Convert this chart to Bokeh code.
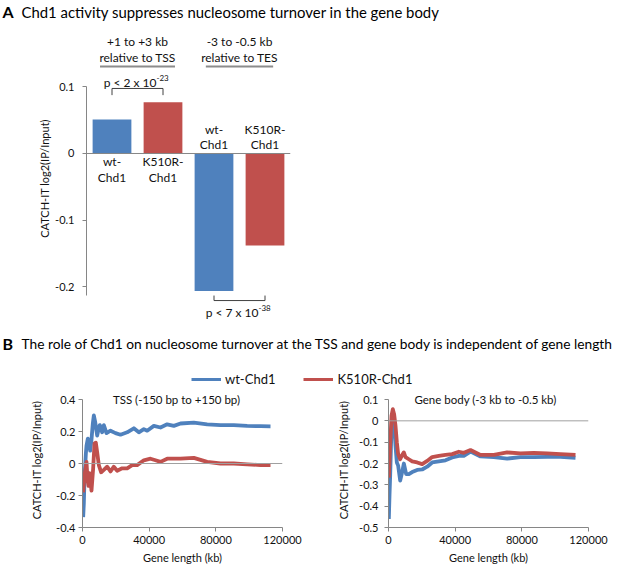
import numpy as np
from bokeh.plotting import figure
from bokeh.models import (Range1d, FactorRange, Span, Legend, LegendItem,
                          ColumnDataSource, NumeralTickFormatter, FixedTicker)
from bokeh.layouts import column, row
from bokeh.transform import factor_cmap
from bokeh.core.properties import value
from bokeh.embed import file_html
from bokeh.resources import INLINE

# ---------------- data ----------------
title_a = "Chd1 activity suppresses nucleosome turnover in the gene body"
title_b = "The role of Chd1 on nucleosome turnover at the TSS and gene body is independent of gene length"
regions = ["TSS", "TES"]
region_titles = ["+1 to +3 kb\nrelative to TSS", "-3 to -0.5 kb\nrelative to TES"]
strains = ["wt-Chd1", "K510R-Chd1"]
strain_labels = ["wt-\nChd1", "K510R-\nChd1"]
tss_values = [0.051, 0.077]
tes_values = [-0.206, -0.138]
p_mantissa = ["p < 2 x 10", "p < 7 x 10"]
p_exponent = ["-23", "-38"]

tss_len_wt = [400, 800, 1200, 2000, 2400, 3200, 4000, 4600, 5400, 6200, 6800, 7600, 8800,
              10000, 10400, 11800, 12800, 14400, 16800, 19800, 22800, 26800, 30800, 33800,
              36800, 38800, 42800, 46800, 50800, 54800, 58800, 66800, 74800, 82800, 90800,
              98800, 106800, 112800]
tss_wt = [-0.335, -0.25, -0.095, 0.06, 0.11, 0.155, 0.14, 0.08, 0.15, 0.25, 0.30, 0.26, 0.175,
          0.23, 0.24, 0.195, 0.24, 0.19, 0.205, 0.19, 0.18, 0.195, 0.22, 0.195,
          0.215, 0.205, 0.235, 0.225, 0.245, 0.235, 0.25, 0.255, 0.245, 0.24, 0.24,
          0.235, 0.233, 0.232]
tss_len_k510r = [400, 1200, 2000, 2400, 3000, 3600, 4200, 4800, 5400, 6400, 7200, 8000, 8800,
                 9800, 11200, 12800, 14800, 16800, 18800, 20800, 23800, 26800, 29800, 32800,
                 36800, 40800, 43800, 46800, 50800, 58800, 66800, 74800, 82800, 90800, 98800,
                 106800, 112800]
tss_k510r = [-0.18, -0.075, -0.02, 0.01, -0.10, -0.14, -0.06, -0.11, -0.17, -0.03, 0.125, 0.13, 0.07,
             -0.01, -0.055, -0.04, -0.02, -0.05, -0.02, -0.045, -0.03, -0.03, -0.01, -0.01,
             0.02, 0.03, 0.02, 0.01, 0.03, 0.03, 0.035, 0.01, 0.0, 0.0, -0.005,
             -0.01, -0.01]

body_len_wt = [200, 600, 1000, 1600, 2200, 2600, 3400, 4200, 5000, 5800, 7000, 8200, 9200,
               10600, 12200, 14200, 17200, 20200, 23200, 26200, 30200, 34200, 38200, 42200,
               45200, 49200, 55200, 63200, 71200, 79200, 87200, 95200, 103200, 112200]
body_wt = [-0.46, -0.35, -0.258, -0.086, 0.0, 0.01, -0.01, -0.117, -0.195, -0.21, -0.28, -0.24, -0.20,
           -0.25, -0.25, -0.24, -0.23, -0.228, -0.215, -0.195, -0.19, -0.185, -0.172, -0.164,
           -0.164, -0.144, -0.167, -0.17, -0.177, -0.17, -0.17, -0.169, -0.169, -0.173]
body_len_k510r = [200, 1000, 1800, 2600, 3400, 4200, 5000, 5800, 7000, 8200, 9200, 10200, 12200,
                  14200, 17200, 20200, 23200, 26200, 30200, 34200, 38200, 42200, 45200, 49200,
                  55200, 63200, 71200, 79200, 87200, 95200, 103200, 112200]
body_k510r = [-0.266, -0.117, 0.023, 0.055, 0.03, -0.023, -0.10, -0.156, -0.18, -0.16, -0.148, -0.17, -0.18,
              -0.19, -0.195, -0.203, -0.188, -0.17, -0.164, -0.16, -0.156, -0.145, -0.15, -0.137,
              -0.16, -0.16, -0.148, -0.153, -0.15, -0.153, -0.156, -0.16]

# ---------------- styles ----------------
FONT = "Lato"
BLUE = "#4F81BD"
RED = "#C0504D"
AXIS_GRAY = "#868686"
TXT = "#111111"
W = 617


def style_axis(ax, tick_size="11px"):
    ax.axis_line_color = AXIS_GRAY
    ax.major_tick_line_color = AXIS_GRAY
    ax.minor_tick_line_color = None
    ax.major_tick_in = 0
    ax.major_tick_out = 4
    ax.major_label_text_font = FONT
    ax.major_label_text_font_size = tick_size
    ax.major_label_text_color = TXT
    ax.axis_label_text_font = FONT
    ax.axis_label_text_font_size = "11px"
    ax.axis_label_text_font_style = "normal"
    ax.axis_label_text_color = TXT


def strip(height):
    """A full-width figure whose data units are pixels, used for headings."""
    f = figure(width=W, height=height, x_range=Range1d(0, W), y_range=Range1d(0, height),
               output_backend="svg", toolbar_location=None, title=None,
               x_axis_location=None, y_axis_location=None,
               min_border_left=0, min_border_right=0, min_border_top=0, min_border_bottom=0)
    f.outline_line_color = None
    f.grid.visible = False
    return f


def heading(f, letter, text, y, size):
    f.text(x=[2], y=[y], text=[letter], text_baseline="middle", text_font=value(FONT),
           text_font_size="16px", text_font_style="bold", text_color="#000000")
    f.text(x=[21], y=[y], text=[text], text_baseline="middle", text_font=value(FONT),
           text_font_size=size, text_color="#000000")


# ---------------- panel A title ----------------
tA = strip(26)
heading(tA, "A", title_a, 15, "14.9px")

# ---------------- panel A ----------------
bar_x = [(r, s) for r in regions for s in strains]
bar_strain = [s for r in regions for s in strains]
bar_top = tss_values + tes_values
bar_lab = [strain_labels[strains.index(s)] for s in bar_strain]

xr = FactorRange(factors=bar_x, group_padding=0, factor_padding=0, range_padding=0)
pA = figure(width=W, height=304, x_range=xr, y_range=Range1d(-0.2654, 0.1904),
            output_backend="svg", toolbar_location=None, title=None, x_axis_location=None,
            min_border_left=86, min_border_right=W - 290, min_border_top=0, min_border_bottom=0)
pA.outline_line_color = None
pA.grid.visible = False
style_axis(pA.yaxis[0], "11px")
pA.yaxis.ticker = FixedTicker(ticks=[-0.2, -0.1, 0, 0.1])
pA.yaxis.formatter = NumeralTickFormatter(format="0.[0]")
pA.yaxis.bounds = (-0.2135, 0.1005)
pA.yaxis.major_label_standoff = 8
pA.yaxis.axis_label = "CATCH-IT log2(IP/Input)"
pA.yaxis.axis_label_standoff = 1

pA.add_layout(Span(location=0, dimension="width", line_color=AXIS_GRAY, line_width=1))

src = ColumnDataSource(dict(x=bar_x, top=bar_top, strain=bar_strain))
pA.vbar(x="x", top="top", width=0.76, source=src,
        fill_color=factor_cmap("strain", [BLUE, RED], strains), line_color=None)

LH = 1.02
pos = [i for i, v in enumerate(bar_top) if v >= 0]
neg = [i for i, v in enumerate(bar_top) if v < 0]
pA.text(x=[bar_x[i] for i in pos], y=[0] * len(pos), text=[bar_lab[i] for i in pos],
        text_align="center", text_baseline="top", y_offset=1, text_line_height=LH,
        text_font=value(FONT), text_font_size="12px", text_color=TXT)
pA.text(x=[bar_x[i] for i in neg], y=[0] * len(neg), text=[bar_lab[i] for i in neg],
        text_align="center", text_baseline="bottom", y_offset=-1, text_line_height=LH,
        text_font=value(FONT), text_font_size="12px", text_color=TXT)

# group headers (synthetic coordinate of each group's centre)
n = len(strains)
group_c = [n * g + n / 2 for g in range(len(regions))]
UNDER_Y = 0.1304
under_hw = [0.735, 0.66]
pA.text(x=regions, y=[UNDER_Y] * len(regions), text=region_titles, text_align="center",
        text_baseline="bottom", y_offset=-2, text_line_height=LH,
        text_font=value(FONT), text_font_size="12px", text_color=TXT)
pA.segment(x0=[c - h for c, h in zip(group_c, under_hw)], x1=[c + h for c, h in zip(group_c, under_hw)],
           y0=[UNDER_Y] * 2, y1=[UNDER_Y] * 2, line_color="#8c8c8c", line_width=2)

# significance brackets
g_vals = [tss_values, tes_values]
b_xs, b_ys, t_y = [], [], []
for g, vals in enumerate(g_vals):
    x0 = n * g + 0.5
    x1 = n * g + n - 0.5
    if max(vals) > 0:
        line_y = max(vals) + 0.0205
        leg_y = max(vals) + 0.0105
        t_y.append(line_y + 0.0095)
    else:
        line_y = min(vals) - 0.0145
        leg_y = min(vals) - 0.0070
        t_y.append(line_y - 0.0175)
    b_xs.append([x0, x0, x1, x1])
    b_ys.append([leg_y, line_y, line_y, leg_y])
pA.multi_line(xs=b_xs, ys=b_ys, line_color="#404040", line_width=1)
pA.text(x=group_c, y=t_y, text=p_mantissa, text_align="right", text_baseline="middle",
        x_offset=19, text_font=value(FONT), text_font_size="12px", text_color=TXT)
pA.text(x=group_c, y=t_y, text=p_exponent, text_align="left", text_baseline="middle",
        x_offset=19, y_offset=-4.5, text_font=value(FONT), text_font_size="8px", text_color=TXT)

# ---------------- panel B header ----------------
head = strip(62)
heading(head, "B", title_b, 49, "13.75px")
nan = np.array([np.nan])
r_wt = head.line(x=nan, y=nan, line_color=BLUE, line_width=3)
r_k = head.line(x=nan, y=nan, line_color=RED, line_width=3)
leg = Legend(items=[LegendItem(label=strains[0], renderers=[r_wt]),
                    LegendItem(label=strains[1], renderers=[r_k])],
             orientation="horizontal", location=(191, 5), glyph_width=30, glyph_height=14,
             label_height=14, label_standoff=4, spacing=28, padding=0, margin=0,
             border_line_color=None, background_fill_alpha=0,
             label_text_font=FONT, label_text_font_size="13px", label_text_color=TXT)
head.add_layout(leg)


# ---------------- panel B line charts ----------------
def line_chart(width, left, right, yr, yticks, title, title_dx, lbl_standoff, tick_standoff,
               xs_wt, ys_wt, xs_k, ys_k):
    frame_h = 135
    top_pad = 7
    y_top = yr[1] + (yr[1] - yr[0]) * top_pad / (frame_h - top_pad)
    p = figure(width=width, height=175, x_range=Range1d(0, 120000), y_range=Range1d(yr[0], y_top),
               output_backend="svg", toolbar_location=None, title=None,
               min_border_left=left, min_border_right=right, min_border_top=0, min_border_bottom=40)
    p.outline_line_color = None
    p.grid.visible = False
    style_axis(p.xaxis[0])
    style_axis(p.yaxis[0])
    p.xaxis.ticker = FixedTicker(ticks=[0, 40000, 80000, 120000])
    p.xaxis.formatter = NumeralTickFormatter(format="0")
    p.xaxis.major_label_standoff = 4
    p.xaxis.axis_label = "Gene length (kb)"
    p.xaxis.axis_label_standoff = 4
    p.yaxis.ticker = FixedTicker(ticks=yticks)
    p.yaxis.formatter = NumeralTickFormatter(format="0.[0]")
    p.yaxis.bounds = yr
    p.yaxis.major_label_standoff = tick_standoff
    p.yaxis.axis_label = "CATCH-IT log2(IP/Input)"
    p.yaxis.axis_label_standoff = lbl_standoff
    p.add_layout(Span(location=0, dimension="width", line_color="#a0a0a0", line_width=1))
    p.line(xs_wt, ys_wt, line_color=BLUE, line_width=3.8, line_join="round")
    p.line(xs_k, ys_k, line_color=RED, line_width=3.8, line_join="round")
    p.text(x=[60000], y=[yr[1]], text=[title], x_offset=title_dx, text_align="center",
           text_baseline="middle", text_font=value(FONT), text_font_size="11.5px", text_color=TXT)
    return p


pBL = line_chart(308, 82, 26, (-0.4, 0.4), [-0.4, -0.2, 0, 0.2, 0.4],
                 "TSS (-150 bp to +150 bp)", -6, 10, 3,
                 tss_len_wt, tss_wt, tss_len_k510r, tss_k510r)
pBR = line_chart(309, 80, 29, (-0.5, 0.1), [-0.5, -0.4, -0.3, -0.2, -0.1, 0, 0.1],
                 "Gene body (-3 kb to -0.5 kb)", -3, 6, 6,
                 body_len_wt, body_wt, body_len_k510r, body_k510r)

layout = column(row(tA), row(pA), row(head), row(pBL, pBR))
open("out.html", "w").write(file_html(layout, INLINE))
